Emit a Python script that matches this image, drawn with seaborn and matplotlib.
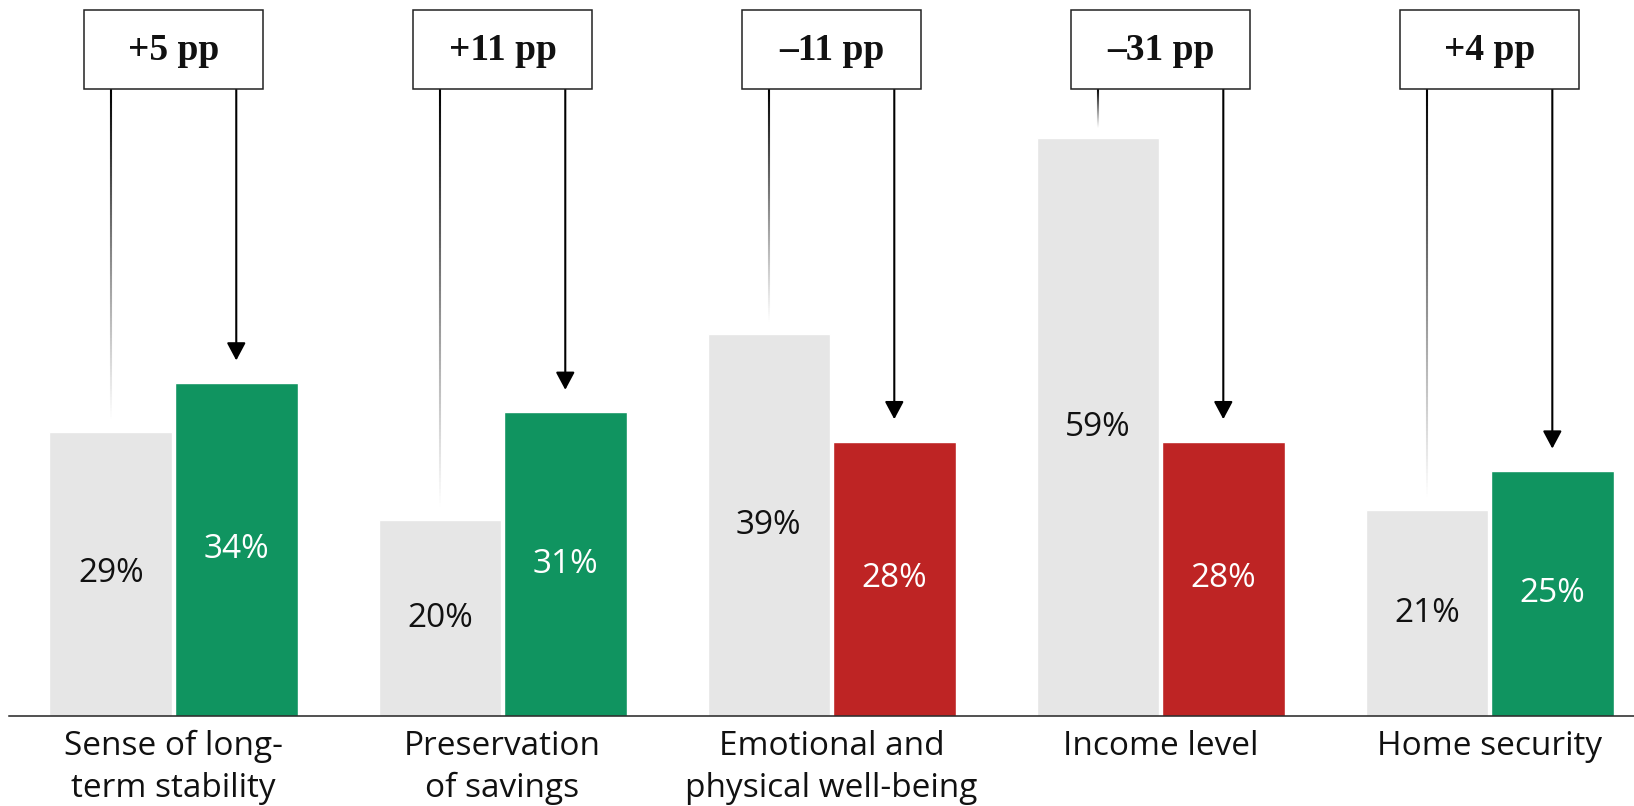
import numpy as np
import pandas as pd
import matplotlib
matplotlib.use("Agg")
import matplotlib.pyplot as plt
from matplotlib.collections import LineCollection
from matplotlib.patches import Rectangle
import seaborn as sns

categories = ["Sense of long-\nterm stability", "Preservation\nof savings",
              "Emotional and\nphysical well-being", "Income level", "Home security"]
before = [29, 20, 39, 59, 21]
after = [34, 31, 28, 28, 25]

grey = "#E6E6E6"
green = "#109460"
red = "#BE2424"

sns.set_style("white")
plt.rcParams["font.family"] = ["Open Sans", "DejaVu Sans"]

df = pd.DataFrame({
    "category": categories * 2,
    "share": before + after,
    "period": ["before"] * len(categories) + ["after"] * len(categories),
})

fig = plt.figure(figsize=(16.34, 8.06), dpi=100)
ax = fig.add_axes([9 / 1634, 90 / 806, 1625 / 1634, 716 / 806])

sns.barplot(data=df, x="category", y="share", hue="period", palette=[grey, green],
            width=0.763, gap=0.024, saturation=1, legend=False, ax=ax)

# colour the second bar by direction of change
for bar, a, b in zip(ax.containers[1], after, before):
    bar.set_facecolor(green if a >= b else red)

ax.set_xlim(-0.5, 4.439)
ax.set_ylim(0, 73.1)
ax.set_xlabel("")
ax.set_ylabel("")
ax.set_yticks([])
for s in ["top", "right", "left"]:
    ax.spines[s].set_visible(False)
ax.spines["bottom"].set_color("#222222")
ax.spines["bottom"].set_linewidth(1.1)
ax.tick_params(axis="x", length=0, pad=10, labelsize=24, labelcolor="#111111")
for lab in ax.get_xticklabels():
    lab.set_linespacing(1.35)

ax.bar_label(ax.containers[0], labels=[f"{v}%" for v in before], label_type="center",
             fontsize=24, color="#111111")
ax.bar_label(ax.containers[1], labels=[f"{v}%" for v in after], label_type="center",
             fontsize=24, color="white")

box_bottom, box_top = 64.05, 72.1
box_w = 0.544
for bar0, bar1, b, a in zip(ax.containers[0], ax.containers[1], before, after):
    x0 = bar0.get_x() + bar0.get_width() / 2
    x1 = bar1.get_x() + bar1.get_width() / 2
    xc = (bar0.get_x() + bar1.get_x() + bar1.get_width()) / 2
    ax.add_patch(Rectangle((xc - box_w / 2, box_bottom), box_w, box_top - box_bottom,
                           facecolor="white", edgecolor="#222222", lw=1.1, zorder=4))
    d = a - b
    txt = ("+" if d >= 0 else "\u2013") + f"{abs(d)} pp"
    ax.text(xc, box_bottom + 2.9, txt, ha="center", va="baseline", fontsize=27,
            fontweight="bold", family="Liberation Serif", color="#111111", zorder=5)

    # fading line down to the first bar
    ys = np.linspace(box_bottom, b + 1.0, 120)
    segs = [[(x0, ys[i]), (x0, ys[i + 1])] for i in range(len(ys) - 1)]
    t = np.linspace(0, 1, len(segs))
    cols = [(0, 0, 0, max(0.0, 1 - tt) ** 1.1) for tt in t]
    ax.add_collection(LineCollection(segs, colors=cols, linewidths=1.5, capstyle="butt"))

    # arrow down to the second bar
    ax.annotate("", xy=(x1, a + 2.3), xytext=(x1, box_bottom),
                arrowprops=dict(arrowstyle="-|>,head_length=0.9,head_width=0.48",
                                mutation_scale=12, lw=1.5, color="black",
                                shrinkA=0, shrinkB=0))

fig.savefig("out.png", dpi=100)
